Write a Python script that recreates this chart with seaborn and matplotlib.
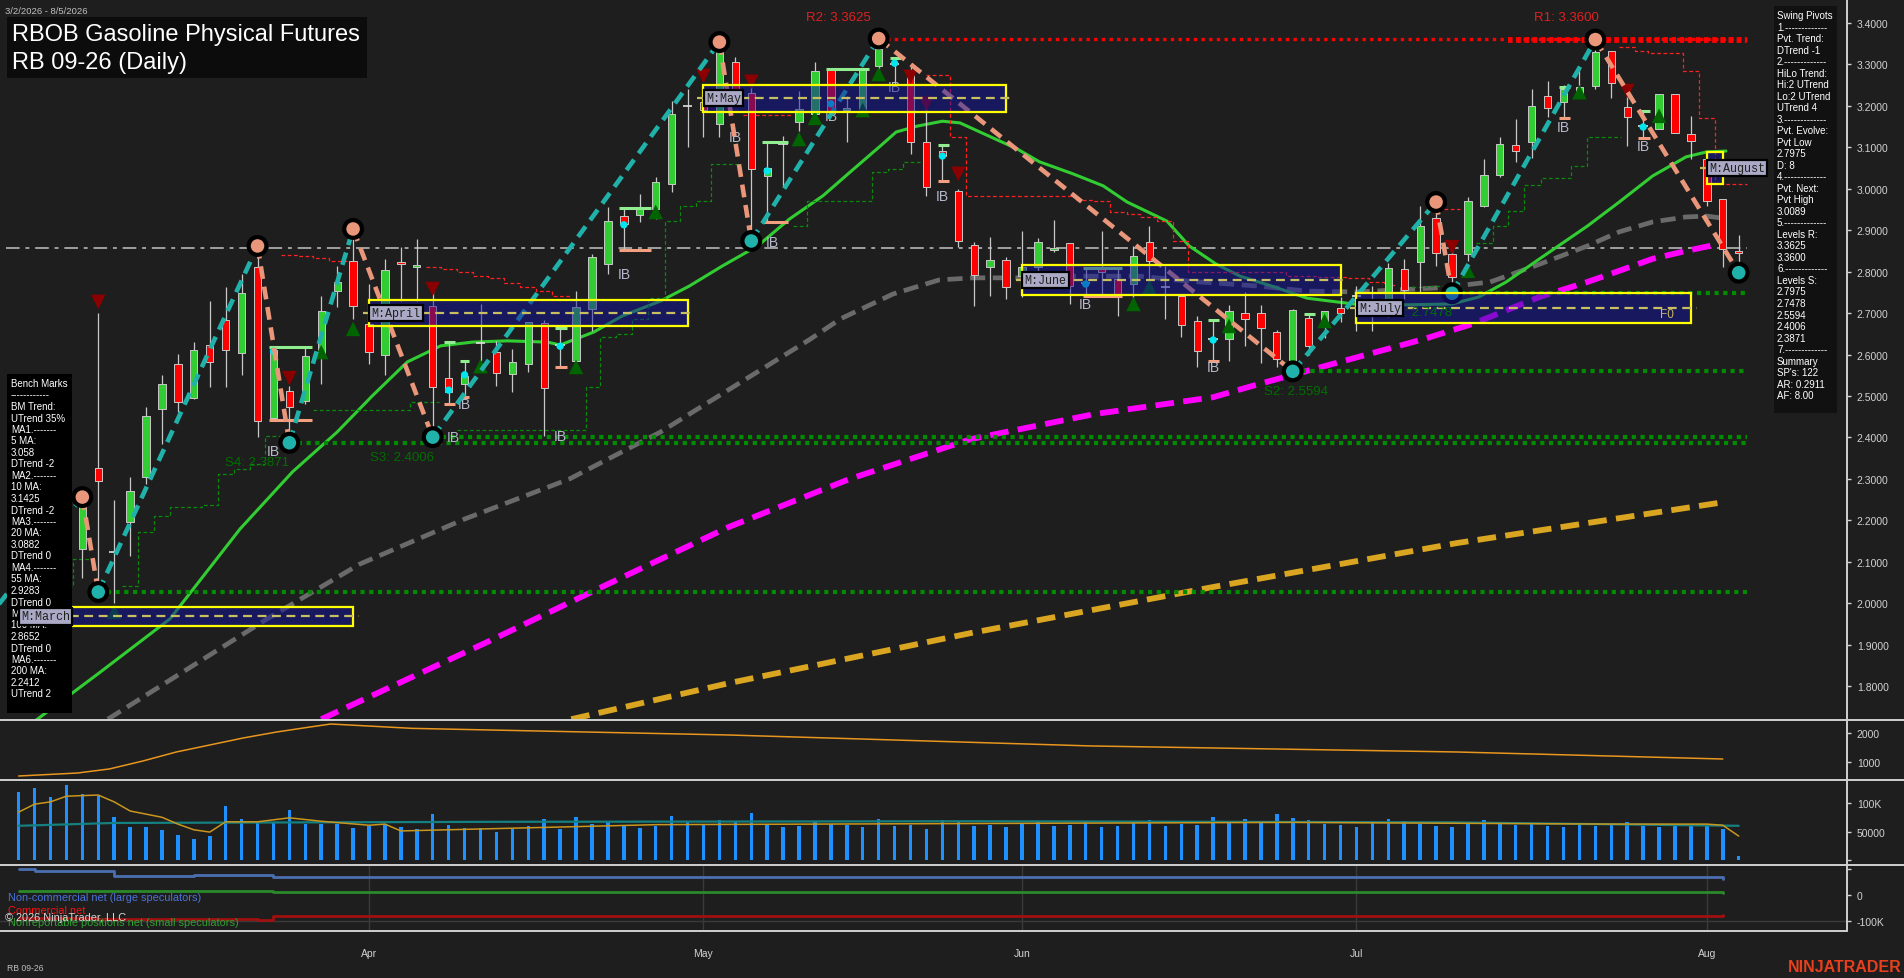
import numpy as np
import pandas as pd
import matplotlib
matplotlib.use("Agg")
import matplotlib.pyplot as plt
import seaborn as sns
from matplotlib.lines import Line2D
from matplotlib.patches import Rectangle

# ================= 1. data =================
# bar index 0 = 3/2/2026 ... 108 = 8/5/2026 (daily RB 09-26)
opens = [1.98, 2.04, 2.08, 2.07, 2.13, 2.326, 2.126, 2.196, 2.304, 2.468,
         2.577, 2.495, 2.623, 2.683, 2.604, 2.811, 2.447, 2.512, 2.488, 2.592,
         2.753, 2.826, 2.674, 2.599, 2.823, 2.810, 2.717, 2.543, 2.529, 2.630,
         2.606, 2.553, 2.577, 2.676, 2.620, 2.584, 2.710, 2.818, 2.934, 2.937,
         2.951, 3.011, 3.202, 3.210, 3.156, 3.306, 3.231, 3.030, 3.110, 3.161,
         3.180, 3.289, 3.190, 3.192, 3.296, 3.300, 3.284, 3.113, 3.090, 2.995,
         2.864, 2.811, 2.828, 2.790, 2.811, 2.852, 2.869, 2.770, 2.811, 2.782,
         2.770, 2.872, 2.760, 2.741, 2.681, 2.635, 2.638, 2.700, 2.700, 2.654,
         2.580, 2.688, 2.666, 2.712, 2.740, 2.734, 2.703, 2.806, 2.823, 2.929,
         2.843, 2.843, 2.958, 3.033, 3.106, 3.113, 3.224, 3.210, 3.229, 3.248,
         3.332, 3.197, 3.150, 3.144, 3.229, 3.132, 3.072, 2.975, 2.850]
highs = [2.06, 2.10, 2.14, 2.18, 2.256, 2.70, 2.25, 2.304, 2.473, 2.551,
         2.601, 2.630, 2.729, 2.763, 2.794, 2.862, 2.620, 2.524, 2.618, 2.741,
         2.814, 2.903, 2.770, 2.830, 2.859, 2.879, 2.758, 2.630, 2.584, 2.722,
         2.633, 2.613, 2.678, 2.683, 2.664, 2.753, 2.843, 2.956, 2.956, 2.987,
         3.028, 3.212, 3.241, 3.248, 3.354, 3.318, 3.265, 3.113, 3.127, 3.236,
         3.306, 3.290, 3.224, 3.290, 3.3625, 3.315, 3.296, 3.212, 3.106, 2.999,
         2.872, 2.884, 2.835, 2.898, 2.882, 2.925, 2.869, 2.809, 2.898, 2.809,
         2.862, 2.910, 2.814, 2.741, 2.693, 2.683, 2.720, 2.751, 2.720, 2.660,
         2.710, 2.700, 2.705, 2.739, 2.765, 2.765, 2.820, 2.830, 2.958, 2.968,
         2.862, 2.980, 3.072, 3.125, 3.168, 3.241, 3.260, 3.250, 3.289, 3.360,
         3.332, 3.236, 3.188, 3.229, 3.229, 3.175, 3.089, 2.975, 2.888]
lows = [1.96, 2.01, 2.04, 2.05, 2.06, 2.027, 2.00, 2.114, 2.288, 2.384,
        2.461, 2.493, 2.522, 2.522, 2.551, 2.400, 2.440, 2.387, 2.481, 2.529,
        2.715, 2.686, 2.577, 2.551, 2.729, 2.729, 2.4006, 2.481, 2.497, 2.584,
        2.524, 2.510, 2.558, 2.403, 2.570, 2.584, 2.657, 2.794, 2.855, 2.920,
        2.927, 2.992, 3.101, 3.125, 3.125, 3.200, 2.874, 2.922, 3.004, 3.139,
        3.176, 3.180, 3.113, 3.190, 3.290, 3.250, 3.084, 2.983, 3.019, 2.859,
        2.717, 2.741, 2.734, 2.740, 2.770, 2.847, 2.722, 2.741, 2.741, 2.693,
        2.734, 2.775, 2.686, 2.642, 2.570, 2.584, 2.584, 2.620, 2.580, 2.570,
        2.5594, 2.600, 2.640, 2.678, 2.657, 2.657, 2.690, 2.734, 2.751, 2.814,
        2.7478, 2.826, 2.956, 3.028, 3.065, 3.074, 3.173, 3.171, 3.220, 3.240,
        3.219, 3.103, 3.122, 3.144, 3.135, 3.072, 2.958, 2.811, 2.7975]
closes = [2.04, 2.08, 2.07, 2.15, 2.232, 2.295, 2.124, 2.271, 2.452, 2.529,
          2.485, 2.611, 2.582, 2.611, 2.748, 2.440, 2.611, 2.473, 2.597, 2.705,
          2.775, 2.717, 2.606, 2.804, 2.819, 2.816, 2.522, 2.510, 2.548, 2.628,
          2.555, 2.582, 2.678, 2.519, 2.622, 2.715, 2.835, 2.922, 2.915, 2.954,
          3.016, 3.180, 3.200, 3.190, 3.330, 3.217, 3.048, 3.050, 3.108, 3.192,
          3.284, 3.185, 3.194, 3.289, 3.337, 3.302, 3.113, 3.004, 3.080, 2.874,
          2.792, 2.828, 2.763, 2.810, 2.872, 2.857, 2.765, 2.772, 2.799, 2.746,
          2.838, 2.826, 2.762, 2.671, 2.609, 2.637, 2.705, 2.686, 2.664, 2.590,
          2.707, 2.620, 2.705, 2.700, 2.742, 2.722, 2.809, 2.756, 2.910, 2.845,
          2.787, 2.970, 3.033, 3.108, 3.091, 3.200, 3.195, 3.240, 3.246, 3.330,
          3.255, 3.173, 3.152, 3.229, 3.135, 3.115, 2.970, 2.855, 2.845]
volume_k = [119, 126, 111, 132, 116, 113, 75, 58, 58, 53, 44, 37, 42, 95, 72, 67, 67, 88, 63, 63,
            63, 56, 60, 63,
            58, 55, 80, 62, 56, 57, 50, 54, 60, 72, 55, 75, 64, 66, 60, 57, 60, 78, 66,
            62, 70, 66, 82, 62, 58, 60, 66, 64, 62, 58, 72, 60, 62, 55, 70, 68, 60, 62, 58,
            64, 68, 60, 62, 66, 58, 60, 65, 70, 60, 64, 62, 75, 68, 72, 66, 80, 74, 70, 64, 62,
            58, 66, 72, 68, 64, 60, 58, 65, 70, 66, 62, 64, 60, 58, 62, 60, 64, 66, 60, 58, 62, 60,
            60, 54, 7]

month_ticks = [22, 43, 63, 84, 106]
month_labels = ["Apr", "May", "Jun", "Jul", "Aug"]
price_ticks = [1.8, 1.9, 2.0, 2.1, 2.2, 2.3, 2.4, 2.5, 2.6, 2.7, 2.8, 2.9, 3.0, 3.1, 3.2, 3.3, 3.4]

# moving averages (bar index, value)
ma20_i = [1, 5, 9.5, 13.9, 17.2, 20, 22.2, 24.4, 26.5, 28.5, 30.7, 33.2, 34, 36.1, 37.9, 40.3,
          42.1, 44.2, 46.4, 48.4, 50.5, 52.2, 54.1, 55.1, 56.4, 58, 59.1, 62.7, 64.1, 66.2,
          68.1, 69.6, 72.1, 73.5, 75.2, 76.7, 78.7, 80.9, 83.8, 87.2, 90, 91.7, 93.4, 95.5,
          98.5, 100.5, 102.6, 104.7, 106, 107.2]
ma20_v = [1.715, 1.83, 1.962, 2.179, 2.317, 2.413, 2.500, 2.582, 2.621, 2.630, 2.633, 2.630, 2.623,
          2.654, 2.693, 2.729, 2.765, 2.814, 2.862, 2.927, 2.983, 3.040, 3.103, 3.137, 3.151,
          3.163, 3.159, 3.096, 3.065, 3.036, 3.007, 2.968, 2.922, 2.862, 2.818, 2.789, 2.765,
          2.736, 2.722, 2.720, 2.722, 2.739, 2.775, 2.831, 2.910, 2.968, 3.031, 3.077, 3.089, 3.091]
ma55_i = [5.6, 15.6, 21.4, 28, 34.6, 40.3, 49.7, 51.6, 54.9, 57.8, 59.9, 62.7, 66.2, 70.4, 73.5,
          77.9, 80.9, 84, 89.2, 92.4, 95.5, 98.5, 100.5, 102.6, 104.7, 106, 107]
ma55_v = [1.72, 1.962, 2.094, 2.203, 2.300, 2.413, 2.637, 2.686, 2.746, 2.780, 2.785, 2.785, 2.789,
          2.789, 2.777, 2.765, 2.753, 2.751, 2.761, 2.775, 2.818, 2.862, 2.896, 2.920, 2.932,
          2.934, 2.929]
ma100_i = [19, 29.3, 37, 44.6, 52.2, 59.8, 67.5, 75, 77.9, 88.2, 91.3, 95.5, 98.5, 100.5, 102.6,
           104.7, 106.8]
ma100_v = [1.72, 1.904, 2.046, 2.184, 2.300, 2.396, 2.456, 2.497, 2.529, 2.637, 2.674, 2.739,
           2.775, 2.802, 2.831, 2.850, 2.867]
ma200_i = [34.7, 44.6, 59.8, 75, 90.3, 107.1]
ma200_v = [1.72, 1.807, 1.928, 2.039, 2.145, 2.244]

# swing pivots (first point lies off the left edge)
swing_i = [-2, 4, 5, 15, 17, 21, 26, 44, 46, 54, 80, 89, 90, 99, 108]
swing_p = [1.96, 2.256, 2.027, 2.862, 2.3871, 2.903, 2.4006, 3.354, 2.874, 3.3625,
           2.5594, 2.968, 2.7478, 3.36, 2.7975]

# trailing stop step lines (nan = gap)
red_stop_i = [16.5, 17.5, 18.5, 19.5, 20.6, np.nan,
              25.6, 26.5, 27.5, 28.5, 29.5, 30.5, 31.5, 32.5, 33.5, 34.6, np.nan,
              45.5, 48.5, np.nan,
              57, 58.5, 59.5, 66.4, 67.5, 68.5, 69.6, 70.4, 71.5, 72.5, 73.4, 79.6, 81.5, 83.4,
              84.8, 85.7, 86.5, np.nan,
              89.5, 90.5, np.nan,
              100.5, 101.5, 102.3, 104.5, 105.5, 106.5, 108.5]
red_stop_p = [2.841, 2.837, 2.832, 2.826, 2.826, np.nan,
              2.811, 2.806, 2.799, 2.790, 2.785, 2.773, 2.763, 2.753, 2.741, 2.741, np.nan,
              3.178, 3.178, np.nan,
              3.275, 3.125, 2.983, 2.973, 2.970, 2.944, 2.939, 2.932, 2.922, 2.874, 2.800, 2.790,
              2.787, 2.785, 2.775, 2.768, 2.768, np.nan,
              2.951, 2.951, np.nan,
              3.341, 3.332, 3.327, 3.285, 3.170, 3.011, 3.011]
grn_stop_i = [1.5, 3.4, 4.8, np.nan,
              6.5, 7.5, 8.5, 9.5, 11.5, 12.5, 13.5, 14.5, 15.5, 17.5, np.nan,
              18.5, 24.6, 26.4, np.nan,
              27.5, 35.6, 36.5, 37.5, 38.5, 39.5, 40.6, 41.5, 42.5, 43.5, 45.3, np.nan,
              48.6, 49.5, 53.6, 54.6, 55.5, 56.6, np.nan,
              87.5, 88.4, 89.5, np.nan,
              91.5, 92.6, 93.5, 94.5, 95.6, 97.5, 98.5, 99.5, 100.6]
grn_stop_p = [2.041, 2.107, 2.107, np.nan,
              2.041, 2.172, 2.210, 2.232, 2.236, 2.312, 2.324, 2.336, 2.403, 2.403, np.nan,
              2.466, 2.485, 2.485, np.nan,
              2.418, 2.522, 2.642, 2.650, 2.686, 2.736, 2.922, 2.958, 2.970, 3.060, 3.060, np.nan,
              2.910, 2.970, 3.040, 3.047, 3.065, 3.065, np.nan,
              2.763, 2.765, 2.765, np.nan,
              2.870, 2.910, 2.946, 3.009, 3.026, 3.055, 3.125, 3.125, 3.125]

# signal markers
down_tri_i = [5, 17, 26, 43, 46, 56, 57, 59, 90, 101]
down_tri_p = [2.727, 2.543, 2.758, 3.272, 3.258, 3.270, 3.205, 3.036, 2.859, 3.236]
up_tri_i = [6, 19, 21, 29, 35, 40, 49, 50, 53, 54, 70, 71, 76, 82, 91, 98, 103]
up_tri_p = [1.979, 2.606, 2.662, 2.572, 2.570, 2.944, 3.120, 3.171, 3.19, 3.277, 2.722, 2.763,
            2.669, 2.681, 2.802, 3.233, 3.176]
cyan_i = [16, 27, 28, 34, 38, 47, 51, 55, 58, 67, 75, 102]
cyan_p = [2.608, 2.514, 2.551, 2.620, 2.913, 3.043, 3.205, 3.303, 3.079, 2.770, 2.635, 3.149]
ib_i = [16, 27.3, 28, 34, 38, 45, 47.3, 51, 55, 58, 67, 75, 97, 102]
ib_p = [2.367, 2.401, 2.481, 2.403, 2.794, 3.125, 2.872, 3.176, 3.246, 2.983, 2.722, 2.570,
        3.149, 3.103]
# inside-bar range marks: span start/end, upper and lower price (nan = none)
ibr_i0 = [15.7, 26.7, 27.7, 33.7, 37.7, 46.7, 50.7, 54.7, 57.7, 66.8, 74.7, 80.7, 96.7, 101.7]
ibr_i1 = [18.4, 27.4, 28.3, 34.4, 39.7, 48.3, 53.4, 55.4, 58.4, 69.3, 75.4, 81.4, 97.4, 102.4]
ibr_hi = [2.618, 2.630, 2.584, 2.664, 2.954, 3.113, 3.289, 3.315, 3.106, 2.809, 2.683, 2.698, 3.246, 3.188]
ibr_lo = [2.442, 2.481, 2.497, 2.570, 2.852, 2.920, np.nan, np.nan, 3.019, 2.741, 2.584, np.nan, 3.171, 3.122]

# levels
res_names = ["R2: 3.3625", "R1: 3.3600"]
res_vals = [3.3625, 3.3600]
sup_vals = [2.7478, 2.5594, 2.4006, 2.3871, 2.0275]
sup_start = [90, 80, 26, 17, 5]
ref_level = 2.857

# monthly boxes
box_names = ["M:March", "M:April", "M:May", "M:June", "M:July", "M:August"]
box_start = [0, 22, 43, 63, 84, 106]
box_end = [21, 42, 62, 83, 105, 107]
box_top = [1.991, 2.732, 3.251, 2.816, 2.748, 3.089]
box_bot = [1.945, 2.669, 3.186, 2.744, 2.676, 3.011]

# lower panels
range_i = [0, 3.7, 5.7, 7.8, 9.9, 12, 14.1, 16.2, 18.3, 19.6, 24.7, 44.6, 67.4, 90.3, 107]
range_v = [517, 620, 760, 1034, 1345, 1586, 1828, 2034, 2207, 2310, 2160, 1931, 1552, 1345, 1103]
vavg_i = [0, 1, 2, 3, 5, 6, 7, 9, 10, 11, 12, 13, 15, 17, 19, 22, 23, 24, 40, 60, 80, 100, 106, 107, 108]
vavg_k = [84, 98, 102, 112, 114, 102, 86, 75, 63, 53, 49, 67, 67, 74, 68, 61, 63, 51, 62, 64, 66, 63, 63, 61, 42]
vbase_i = [0, 6, 30, 60, 90, 108]
vbase_k = [60, 65, 67, 68, 66, 60]
cot_i = [0, 1, 5, 6, 10, 11, 15, 16, 107]
cot_large = [100, 91, 91, 74, 74, 78, 78, 68, 62]
cot_comm = [-90, -90, -92, -92, -94, -94, -95, -82, -76]
cot_small = [14, 14, 15, 15, 16, 16, 17, 13, 9]

bench_lines = ["Bench Marks", "------------", "BM Trend:", "UTrend 35%", "MA1.-------", "5 MA:",
               "3.058", "DTrend -2", "MA2.-------", "10 MA:", "3.1425", "DTrend -2", "MA3.-------",
               "20 MA:", "3.0882", "DTrend 0", "MA4.-------", "55 MA:", "2.9283", "DTrend 0",
               "MA5.-------", "100 MA:", "2.8652", "DTrend 0", "MA6.-------", "200 MA:", "2.2412",
               "UTrend 2"]
pivot_lines = ["Swing Pivots", "1.-------------", "Pvt. Trend:", "DTrend -1", "2.-------------",
               "HiLo Trend:", "Hi:2 UTrend", "Lo:2 UTrend", "UTrend 4", "3.-------------",
               "Pvt. Evolve:", "Pvt Low", "2.7975", "D: 8", "4.-------------", "Pvt. Next:",
               "Pvt High", "3.0089", "5.-------------", "Levels R:", "3.3625", "3.3600",
               "6.-------------", "Levels S:", "2.7975", "2.7478", "2.5594", "2.4006", "2.3871",
               "7.-------------", "Summary", "SP's: 122", "AR: 0.2911", "AF: 8.00"]

# ================= 2. style =================
BG = "#1e1e1e"
sns.set_theme(style="dark", rc={"axes.facecolor": BG, "figure.facecolor": BG,
                                 "axes.edgecolor": BG, "text.color": "#d0d0d0",
                                 "xtick.color": "#d0d0d0", "ytick.color": "#d0d0d0",
                                 "patch.edgecolor": "none"})
plt.rcParams['font.family'] = ['Liberation Sans', 'DejaVu Sans']

W, H = 1904, 979
fig = plt.figure(figsize=(W / 100, H / 100), dpi=100)
XR = 1847


def box_of(y0, y1):
    return [0, 1 - y1 / H, XR / W, (y1 - y0) / H]


ax = fig.add_axes(box_of(0, 721))
ax2 = fig.add_axes(box_of(721, 781), sharex=ax)
ax3 = fig.add_axes(box_of(781, 866), sharex=ax)
ax4 = fig.add_axes(box_of(866, 932), sharex=ax)
for a in (ax, ax2, ax3, ax4):
    for s in a.spines.values():
        s.set_visible(False)
    a.grid(False)
    a.yaxis.tick_right()
    a.tick_params(axis="y", length=3, width=1, pad=4, labelsize=7.5, colors="#d2d2d2")
    a.tick_params(axis="x", length=0, labelbottom=False)
ax.set_xlim(-1.17, 114.8)
ax.set_ylim(1.7181, 3.4579)
ax2.set_ylim(379, 2448)
ax3.set_ylim(-8800, 140400)
ax4.set_ylim(-138500, 115400)

bars = pd.DataFrame({"i": np.arange(len(opens)), "o": opens, "h": highs, "l": lows, "c": closes})

# ================= 3. main price panel =================
ax.axhline(ref_level, xmin=0.003, xmax=(108.5 + 1.17) / 115.97, color="#a0a0a0", lw=1.4,
           ls=(0, (7, 3, 2, 3)), zorder=2)

# moving averages
sns.lineplot(x=ma200_i, y=ma200_v, ax=ax, color="#daa520", lw=4.2, ls=(0, (3.2, 1.6)),
             sort=False, estimator=None, zorder=2)
sns.lineplot(x=ma100_i, y=ma100_v, ax=ax, color="#ff00ff", lw=4.2, ls=(0, (3.2, 1.6)),
             sort=False, estimator=None, zorder=2)
sns.lineplot(x=ma55_i, y=ma55_v, ax=ax, color="#6a6a6a", lw=3.4, ls=(0, (3.2, 1.6)),
             sort=False, estimator=None, zorder=2)
sns.lineplot(x=ma20_i, y=ma20_v, ax=ax, color="#32cd32", lw=2.2,
             sort=False, estimator=None, zorder=2)

# trailing stop steps
ax.plot(red_stop_i, red_stop_p, color="#ff2020", lw=0.9, ls=(0, (3, 2)), drawstyle="steps-post", zorder=2)
ax.plot(grn_stop_i, grn_stop_p, color="#0a8a0a", lw=0.9, ls=(0, (3, 2)), drawstyle="steps-post", zorder=2)

# support / resistance levels
for v, s0 in zip(sup_vals, sup_start):
    ax.plot([s0, 108.5], [v, v], color="#008c00", lw=3.0, ls=(0, (1, 1.1)), zorder=2.5)
ax.plot([54, 108.5], [res_vals[0], res_vals[0]], color="#ff0000", lw=2.4, ls=(0, (1, 1.3)), zorder=2.5)
ax.plot([93.5, 108.5], [res_vals[1], res_vals[1]], color="#ff0000", lw=4.2, ls=(0, (0.8, 0.6)), zorder=2.6)
ax.text(51.5, 3.414, res_names[0], color="#e02020", fontsize=9.5, ha="center", va="center")
ax.text(97.2, 3.414, res_names[1], color="#e02020", fontsize=9.5, ha="center", va="center")
ax.text(15.0, 2.341, "S4: 2.3871", color="#006e00", fontsize=9.5, ha="center", va="center", zorder=3)
ax.text(24.1, 2.353, "S3: 2.4006", color="#006e00", fontsize=9.5, ha="center", va="center", zorder=3)
ax.text(80.2, 2.512, "S2: 2.5594", color="#006e00", fontsize=9.5, ha="center", va="center", zorder=3)
ax.text(88.0, 2.703, "S1: 2.7478", color="#006e00", fontsize=9.5, ha="center", va="center", zorder=7)

# candles
doji = (bars.c - bars.o).abs() < 0.004
ax.vlines(bars.i, bars.l, bars.h, color="#c8c8c8", lw=0.9, zorder=3)
body = bars[~doji]
ax.bar(body.i, (body.c - body.o).abs(), bottom=np.minimum(body.o, body.c), width=0.46,
       color=np.where(body.c > body.o, "#32cd32", "#ff0000"), edgecolor="#c8c8c8",
       linewidth=0.7, zorder=4)
dj = bars[doji]
ax.hlines(dj.c, dj.i - 0.3, dj.i + 0.3, color="#e0e0e0", lw=1.2, zorder=4)

# inside-bar range marks
ax.hlines(ibr_hi, ibr_i0, ibr_i1, color="#90ee90", lw=2.2, zorder=4.2)
ax.hlines(ibr_lo, ibr_i0, ibr_i1, color="#f4a080", lw=2.2, zorder=4.2)

# markers
sns.scatterplot(x=down_tri_i, y=down_tri_p, ax=ax, marker="v", s=110, color="#8b0000",
                edgecolor="none", zorder=4.5, legend=False)
sns.scatterplot(x=up_tri_i, y=up_tri_p, ax=ax, marker="^", s=110, color="#006400",
                edgecolor="none", zorder=4.5, legend=False)
sns.scatterplot(x=cyan_i, y=cyan_p, ax=ax, s=28, color="#00e5ee", edgecolor="none",
                zorder=4.6, legend=False)
for i, p in zip(ib_i, ib_p):
    ax.text(i, p, "IB", color="#b8b8cc", fontsize=10, ha="center", va="center", zorder=4.6)

# swing lines
for k in range(len(swing_i) - 1):
    col = "#20b2aa" if swing_p[k + 1] > swing_p[k] else "#e9967a"
    ax.plot(swing_i[k:k + 2], swing_p[k:k + 2], color=col, lw=3.3, ls=(0, (2.8, 1.7)),
            zorder=5, solid_capstyle="butt")
piv = pd.DataFrame({"i": swing_i[1:], "p": swing_p[1:]})
piv["kind"] = ["high" if k % 2 == 0 else "low" for k in range(len(piv))]
sns.scatterplot(data=piv, x="i", y="p", ax=ax, s=250, color="black", edgecolor="none",
                zorder=5.5, legend=False)
sns.scatterplot(data=piv, x="i", y="p", hue="kind", palette={"high": "#e9967a", "low": "#20b2aa"},
                ax=ax, s=95, edgecolor="none", zorder=5.6, legend=False)

# monthly boxes
for name, s0, s1, t, b in zip(box_names, box_start, box_end, box_top, box_bot):
    ax.add_patch(Rectangle((s0, b), s1 - s0, t - b, facecolor="#1414a0", alpha=0.5,
                           edgecolor="none", zorder=6))
    ax.add_patch(Rectangle((s0, b), s1 - s0, t - b, facecolor="none", edgecolor="#ffff00",
                           lw=1.6, zorder=6.1))
    ax.plot([s0 - 0.4, s1 + 0.4], [(t + b) / 2] * 2, color="#c8c060", lw=1.6,
            ls=(0, (4, 2.5)), zorder=6.2)
    fig.text(s0 + 0.15, (t + b) / 2, name, transform=ax.transData, family="Liberation Mono",
             fontsize=8.5, color="#202020", ha="left", va="center", zorder=12,
             bbox=dict(boxstyle="square,pad=0.18", fc="#aaaac6", ec="black", lw=1.6))
ax.text(103.5, 2.698, "F0", color="#c8b860", fontsize=8.5, ha="center", va="center", zorder=7)

ax.set_yticks(price_ticks)
ax.set_yticklabels([f"{v:.4f}" for v in price_ticks])

# ================= 4. lower panels =================
sns.lineplot(x=range_i, y=range_v, ax=ax2, color="#e8961e", lw=1.1, sort=False, estimator=None)
ax2.set_yticks([1000, 2000])
ax2.set_yticklabels(["1000", "2000"])

vol = pd.DataFrame({"i": np.arange(len(volume_k)), "v": np.array(volume_k) * 1000})
ax3.bar(vol.i, vol.v, width=0.22, color="#1e90ff", edgecolor="none", linewidth=0, zorder=2)
sns.lineplot(x=vbase_i, y=np.array(vbase_k) * 1000, ax=ax3, color="#158080", lw=1.6,
             sort=False, estimator=None, zorder=3)
sns.lineplot(x=vavg_i, y=np.array(vavg_k) * 1000, ax=ax3, color="#c8961e", lw=1.1,
             sort=False, estimator=None, zorder=3)
ax3.set_yticks([0, 50000, 100000])
ax3.set_yticklabels(["", "50000", "100K"])

for m in month_ticks:
    ax4.axvline(m, color="#3a3a3a", lw=1, zorder=1)
ax4.axhline(-100000, color="#3a3a3a", lw=1, zorder=1)
sns.lineplot(x=cot_i, y=np.array(cot_large) * 1000, ax=ax4, color="#4a6fb0", lw=2,
             sort=False, estimator=None, drawstyle="steps-post", zorder=3)
sns.lineplot(x=cot_i, y=np.array(cot_small) * 1000, ax=ax4, color="#2a8a2a", lw=2,
             sort=False, estimator=None, drawstyle="steps-post", zorder=3)
sns.lineplot(x=cot_i, y=np.array(cot_comm) * 1000, ax=ax4, color="#a01010", lw=2,
             sort=False, estimator=None, drawstyle="steps-post", zorder=3)
ax4.set_yticks([-100000, 0, 100000])
ax4.set_yticklabels(["-100K", "0", ""])
ax4.set_xticks(month_ticks)
ax4.set_xticklabels(month_labels)
ax4.tick_params(axis="x", length=6, width=1, pad=6, labelsize=7.5, colors="#d2d2d2",
                labelbottom=True, direction="out")
for a in (ax, ax2, ax3, ax4):
    a.set_ylabel("")
    a.set_xlabel("")


# ================= 5. frame, panels, labels =================
def fx(x):
    return x / W


def fy(y):
    return 1 - y / H


LC = "#d0d0d0"
for y in (721, 781, 866):
    fig.add_artist(Line2D([0, 1], [fy(y)] * 2, color=LC, lw=1.4, zorder=3))
fig.add_artist(Line2D([0, fx(XR)], [fy(932)] * 2, color=LC, lw=1.4, zorder=3))
fig.add_artist(Line2D([fx(XR)] * 2, [fy(0), fy(932)], color=LC, lw=1.4, zorder=3))

# title block
fig.text(fx(5), fy(11), "3/2/2026 - 8/5/2026", fontsize=6.8, color="#c0c0c0", va="center")
fig.add_artist(Rectangle((fx(7), fy(79)), fx(360), 61 / H, facecolor="#0c0c0c",
                         edgecolor="none", transform=fig.transFigure, zorder=4))
fig.text(fx(12), fy(35), "RBOB Gasoline Physical Futures", fontsize=17, color="white",
         va="center", zorder=5)
fig.text(fx(12), fy(63), "RB 09-26 (Daily)", fontsize=17, color="white", va="center", zorder=5)

# bench marks panel
fig.add_artist(Rectangle((fx(7), fy(714)), fx(65), 339 / H, facecolor="black",
                         edgecolor="none", transform=fig.transFigure, zorder=4))
for k, s in enumerate(bench_lines):
    fig.text(fx(11), fy(384 + k * 11.5), s, fontsize=7, color="white", va="center", zorder=5)

# swing pivots panel
fig.add_artist(Rectangle((fx(1774), fy(414)), fx(63), 407 / H, facecolor="#111111",
                         edgecolor="none", transform=fig.transFigure, zorder=4))
for k, s in enumerate(pivot_lines):
    fig.text(fx(1777), fy(16 + k * 11.52), s, fontsize=7, color="white", va="center", zorder=5)

# COT legend and footer
fig.text(fx(8), fy(898), "Non-commercial net (large speculators)", fontsize=7.9,
         color="#4a72d8", va="center", zorder=5)
fig.text(fx(8), fy(911), "Commercial net", fontsize=7.9, color="#ff1010", va="center", zorder=5)
fig.text(fx(8), fy(923), "Nonreportable positions net (small speculators)", fontsize=7.9,
         color="#30a030", va="center", zorder=5)
fig.text(fx(5), fy(918), "\u00a9 2026 NinjaTrader, LLC", fontsize=7.9, color="#d8d8d8",
         va="center", zorder=6)
fig.text(fx(7), fy(969), "RB 09-26", fontsize=6.2, color="#c0c0c0", va="center")
fig.text(fx(1902), fy(968), "NINJATRADER", fontsize=11.5, fontweight="bold", color="#e8401c",
         va="center", ha="right")

fig.savefig("out.png", dpi=100, facecolor=BG)
